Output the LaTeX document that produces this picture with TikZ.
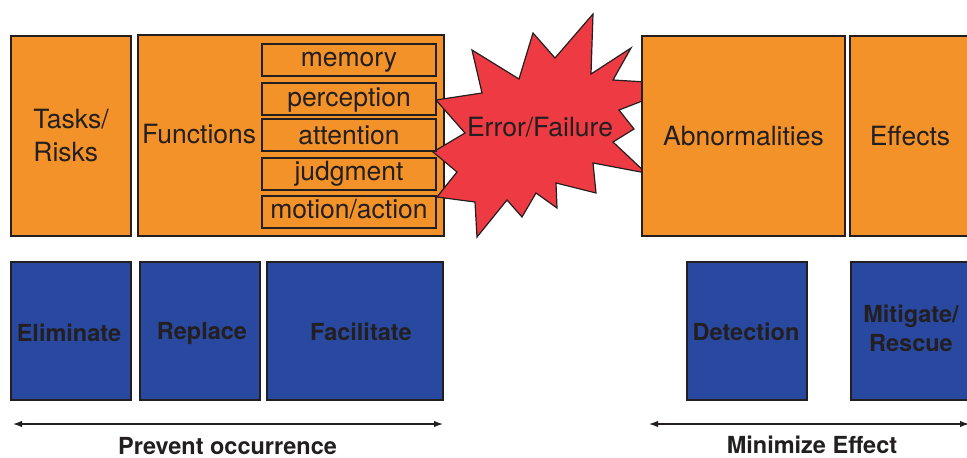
\documentclass[tikz,border=0pt]{standalone}
\usepackage{fontspec}
\setmainfont{TeX Gyre Heros}
\usetikzlibrary{arrows.meta}
\definecolor{orangebox}{RGB}{243,146,41}
\definecolor{bluebox}{RGB}{41,72,160}
\definecolor{redburst}{RGB}{238,58,67}
\definecolor{inkc}{RGB}{35,31,32}
\tikzset{
  obox/.style={draw=inkc, fill=orangebox, line width=1.2pt, inner sep=0pt, text=inkc,
    font=\fontsize{26.5}{33}\selectfont},
  subbox/.style={obox, minimum width=174pt, minimum height=32pt, text height=19pt, text depth=7pt},
  bbox/.style={draw=inkc, fill=bluebox, line width=1.2pt, inner sep=0pt, text=inkc,
    font=\fontsize{23.5}{28.5}\selectfont\bfseries},
  plain/.style={inner sep=0pt, text=inkc, font=\fontsize{26.5}{33}\selectfont},
  blabelfree/.style={inner sep=0pt, text=inkc, font=\fontsize{23.5}{28.5}\selectfont\bfseries},
  blabel/.style={blabelfree, text height=17pt, text depth=0pt},
  span/.style={draw=inkc, line width=1.3pt, {Latex[length=9pt,width=6.5pt]}-{Latex[length=9pt,width=6.5pt]}}
}
\begin{document}
\begin{tikzpicture}[x=1pt,y=-1pt]
\useasboundingbox (0,0) rectangle (967,458);
\clip (0,0) rectangle (967,458);
% top row, left
\node[obox, minimum width=120pt, minimum height=200pt, align=left] (tasks) at (71,136) {Tasks/\\Risks};
\node[obox, minimum width=306pt, minimum height=201pt] (func) at (291,135.5) {};
\node[plain, anchor=west] (funclabel) at (142,134) {Functions};
% starburst
\draw[draw=inkc, fill=redburst, line width=1.2pt, line join=miter]
  (593,14) -- (591,74) -- (631,48) -- (613,80) -- (646,82) -- (650,98) -- (619,110)
  -- (634,129) -- (613,142) -- (646,173) -- (593,163) -- (596,193) -- (556,183)
  -- (557,208) -- (536,193) -- (522,217) -- (507,200) -- (477,237) -- (475,202)
  -- (437,197) -- (457,172) -- (433,152) -- (465,133) -- (436,100) -- (482,93)
  -- (472,50) -- (519,79) -- (533,33) -- (555,58) -- cycle;
\node[plain] (error) at (540,127) {Error/Failure};
% sub-functions
\node[subbox] (memory) at (349,60) {memory};
\node[subbox, text depth=5pt] (perception) at (349,99) {perception};
\node[subbox, text depth=1pt] (attention) at (349,135) {attention};
\node[subbox] (judgment) at (349,174) {judgment};
\node[subbox] (motion) at (349,212) {motion/action};
% top row, right
\node[obox, minimum width=203pt, minimum height=200pt] (abn) at (743.5,136) {Abnormalities};
\node[obox, minimum width=122pt, minimum height=200pt] (eff) at (911,136) {};
\node[plain] (efflabel) at (910,136) {Effects};
% bottom row
\node[bbox, minimum width=120pt, minimum height=138pt] (elim) at (71,331) {};
\node[blabel] (elimlabel) at (69,332.5) {Eliminate};
\node[bbox, minimum width=120pt, minimum height=138pt] (repl) at (200,331) {};
\node[blabel] (repllabel) at (202,330.5) {Replace};
\node[bbox, minimum width=176pt, minimum height=138pt] (fac) at (355,331) {};
\node[blabel] (faclabel) at (361,332) {Facilitate};
\node[bbox, minimum width=120pt, minimum height=138pt] (det) at (747,331) {};
\node[blabel] (detlabel) at (746,331.5) {Detection};
\node[bbox, minimum width=120pt, minimum height=138pt] (mit) at (911,331) {};
\node[blabelfree, align=center] (mitlabel) at (911,328.5) {Mitigate/\\Rescue};
% spans
\coordinate (pl) at (13,424);
\coordinate (pr) at (443,424);
\coordinate (ml) at (649,424);
\coordinate (mr) at (969,424);
\draw[span] (pl) -- (pr);
\draw[span] (ml) -- (mr);
\node[blabel] (prevent) at (227.5,445.5) {Prevent occurrence};
\node[blabel] (minimize) at (812,445) {Minimize Effect};
\end{tikzpicture}
\end{document}
